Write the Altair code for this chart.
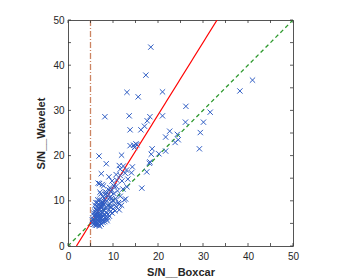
import altair as alt
import pandas as pd

# scatter points (S/N Boxcar, S/N Wavelet)
pts_x = [18.4, 17.3, 38.2, 41.0, 13.1, 21.0, 15.6, 8.2, 13.6, 18.2, 21.0, 17.6, 17.0, 16.2, 13.8,
         26.2, 26.1, 22.6, 21.7, 24.3, 24.5, 23.8, 31.6, 30.1, 29.4, 29.2, 15.1, 15.3, 13.8, 18.7,
         18.5, 21.7, 20.2, 18.1, 17.5, 16.4, 6.9, 8.5, 11.9, 7.4, 6.7, 7.6, 9.1, 11.6, 12.3, 11.4,
         13.0, 12.7, 14.3, 14.1, 13.3, 11.6, 10.8, 12.0, 13.1, 9.8, 10.2, 7.3, 9.1, 7.5, 7.0, 7.9,
         7.1, 10.7, 14.6, 14.8, 18.2,
         5.5, 5.7, 5.8, 6.0, 6.1, 6.2, 6.3, 6.4, 6.5, 6.6, 6.7, 6.8, 6.9, 7.0, 7.1, 7.2, 7.3, 7.4,
         7.5, 7.6, 7.7, 7.8, 7.9, 8.0, 8.1, 8.2, 8.3, 8.4, 8.5, 8.6, 8.7, 8.8, 8.9, 9.0, 9.1, 9.2,
         9.3, 9.4, 9.5, 9.6, 9.8, 9.9, 10.0, 10.2, 10.3, 10.5, 10.6, 10.8, 11.0, 11.2, 11.4, 11.6,
         11.9, 12.2, 12.5, 5.9, 6.0, 6.2, 6.3, 6.5, 6.8, 6.4, 6.9, 7.0, 7.3, 7.5, 7.8, 8.0, 8.2,
         8.5, 8.9, 5.6, 5.9, 6.6, 6.9, 7.2, 7.6, 8.0, 8.4, 5.4, 6.1, 7.4, 6.7, 7.1, 7.9, 8.3, 9.7,
         9.3, 10.7, 9.7, 10.1, 9.3, 11.3, 12.8, 6.2, 6.6, 7.7, 8.6, 5.8, 6.3, 7.0,
         6.0, 6.5, 7.0, 7.5, 8.0, 6.3, 6.8, 7.3, 7.8, 5.7, 8.8, 9.5]
pts_y = [44.0, 37.8, 34.3, 36.7, 34.0, 34.1, 33.0, 28.6, 28.8, 28.6, 28.8, 27.7, 26.5, 25.7, 25.7,
         30.9, 27.4, 25.4, 24.1, 24.7, 23.5, 22.9, 29.6, 27.4, 25.1, 21.5, 22.6, 22.4, 22.2, 21.5,
         20.3, 21.0, 20.4, 18.3, 16.4, 12.8, 19.9, 18.2, 20.1, 16.0, 13.9, 13.6, 15.3, 17.0, 17.7,
         17.8, 16.8, 16.1, 17.5, 16.2, 14.8, 15.6, 14.6, 14.4, 13.1, 14.4, 13.3, 11.5, 12.4, 9.4,
         13.8, 13.3, 11.9, 15.8, 22.3, 21.8, 18.6,
         5.2, 4.8, 5.6, 5.0, 6.2, 5.4, 4.9, 5.8, 6.6, 5.1, 7.2, 6.0, 5.5, 8.0, 6.4, 5.3, 7.0, 6.1,
         8.6, 5.7, 7.5, 6.6, 9.2, 5.9, 7.8, 6.9, 8.4, 6.3, 9.8, 7.3, 5.6, 8.9, 7.0, 10.4, 8.1, 6.6,
         9.4, 7.6, 11.0, 8.6, 7.3, 10.0, 8.2, 11.6, 9.1, 7.8, 10.5, 8.6, 12.2, 9.6, 8.0, 11.0,
         9.0, 12.6, 10.2, 6.8, 7.6, 8.2, 7.0, 8.8, 9.3, 4.6, 4.7, 5.8, 4.9, 6.4, 5.2, 7.0, 5.4,
         6.0, 6.3, 6.0, 5.3, 6.3, 6.9, 7.6, 9.8, 10.6, 11.4, 5.8, 4.6, 4.8, 5.7, 8.6, 8.0, 12.0, 12.4,
         12.9, 13.2, 10.5, 10.0, 8.7, 9.3, 10.4, 9.6, 10.2, 10.9, 11.8, 6.7, 7.4, 4.4,
         9.0, 9.6, 10.2, 9.0, 9.9, 7.9, 8.4, 8.9, 9.5, 7.3, 11.1, 12.0]

# fitted line (red), identity line (green), threshold (x = 5)
fit_x = [1.875, 33.125]
fit_y = [0, 50]
eq_x = [0, 50]
eq_y = [0, 50]
thr_x = [5]
ticks = [0, 5, 10, 15, 20, 25, 30, 35, 40, 45, 50]

W, H = 225, 226
pts = pd.DataFrame({"x": pts_x, "y": pts_y})
fit = pd.DataFrame({"x": fit_x, "y": fit_y})
eq = pd.DataFrame({"x": eq_x, "y": eq_y})
thr = pd.DataFrame({"x": thr_x})
tk = pd.DataFrame({"t": ticks})

xs = alt.Scale(domain=[0, 50], nice=False)
ys = alt.Scale(domain=[0, 50], nice=False)

xaxis = alt.Axis(values=ticks, title="S/N__Boxcar", grid=False, ticks=False, domain=False,
                 labelFont="Liberation Sans", labelFontSize=10, labelColor="#262626",
                 labelPadding=5, titleFont="Liberation Sans", titleFontSize=11,
                 titleFontWeight="bold", titleColor="#262626", titleY=26,
                 titleBaseline="middle", labelFlush=False)
yaxis = alt.Axis(values=ticks, title="S/N__Wavelet", grid=False, ticks=False, domain=False,
                 labelFont="Liberation Sans", labelFontSize=10, labelColor="#262626",
                 labelPadding=4, titleFont="Liberation Sans", titleFontSize=11,
                 titleFontWeight="bold", titleColor="#262626", titleX=-27, titleY=H / 2,
                 titleBaseline="middle", titleAlign="center", labelFlush=False)

scatter = alt.Chart(pts).mark_point(
    shape="M-1,-1L1,1M-1,1L1,-1", size=28, filled=False, color="#2F5DC4", strokeWidth=1,
    opacity=1, clip=True
).encode(x=alt.X("x:Q", scale=xs, axis=xaxis), y=alt.Y("y:Q", scale=ys, axis=yaxis))

fit_line = alt.Chart(fit).mark_line(color="#FF0000", strokeWidth=1.2, clip=True).encode(
    x=alt.X("x:Q", scale=xs), y=alt.Y("y:Q", scale=ys))
eq_line = alt.Chart(eq).mark_line(color="#2E9A2E", strokeWidth=1.3, strokeDash=[4, 3],
                                  clip=True).encode(
    x=alt.X("x:Q", scale=xs), y=alt.Y("y:Q", scale=ys))
thr_line = alt.Chart(thr).mark_rule(color="#CC8462", strokeWidth=1.3,
                                     strokeDash=[6, 2, 1, 2]).encode(
    x=alt.X("x:Q", scale=xs))

tc = "#333333"
tb = alt.Chart(tk).mark_rule(color=tc, strokeWidth=0.8).encode(
    x=alt.X("t:Q", scale=xs), y=alt.value(H), y2=alt.value(H - 3))
tt = alt.Chart(tk).mark_rule(color=tc, strokeWidth=0.8).encode(
    x=alt.X("t:Q", scale=xs), y=alt.value(0), y2=alt.value(3))
tl = alt.Chart(tk).mark_rule(color=tc, strokeWidth=0.8).encode(
    y=alt.Y("t:Q", scale=ys), x=alt.value(0), x2=alt.value(3))
tr = alt.Chart(tk).mark_rule(color=tc, strokeWidth=0.8).encode(
    y=alt.Y("t:Q", scale=ys), x=alt.value(W), x2=alt.value(W - 3))

chart = alt.layer(thr_line, eq_line, fit_line, scatter, tb, tt, tl, tr).properties(
    width=W, height=H,
    autosize=alt.AutoSizeParams(type="none"),
    padding={"left": 60, "top": 12, "right": 48, "bottom": 33},
    background="white",
).configure_view(stroke="#555555", strokeWidth=1)

chart.save("out.html", embed_options={"renderer": "svg", "actions": False})
